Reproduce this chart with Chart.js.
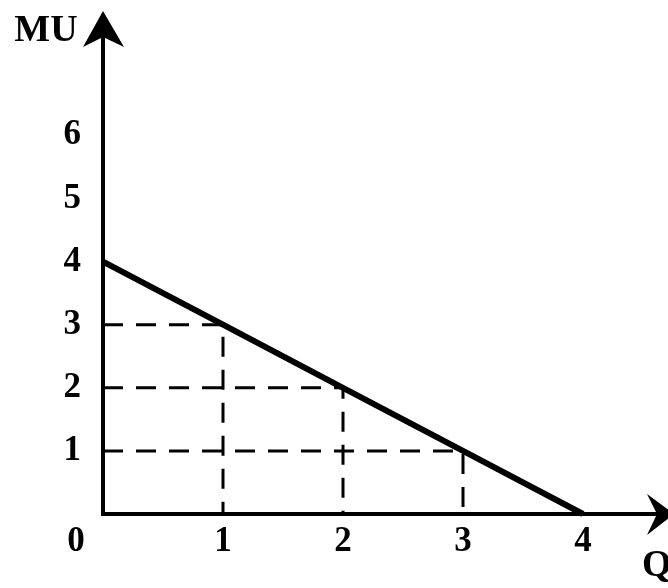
<!DOCTYPE html>
<html>
<head>
<meta charset="utf-8">
<script src="https://cdn.jsdelivr.net/npm/chart.js@4/dist/chart.umd.min.js"></script>
<style>
  html, body { margin: 0; padding: 0; background: #fff; }
  canvas { display: block; }
</style>
</head>
<body>
<canvas id="c" width="668" height="588"></canvas>
<script>
// ---- data ----
const qValues = [0, 1, 2, 3, 4];          // quantity Q
const muValues = [4, 3, 2, 1, 0];         // marginal utility MU
const guideQ = [1, 2, 3];                 // points with dashed guides
const guideMU = [3, 2, 1];
const xTickLabels = [1, 2, 3, 4];
const yTickLabels = [1, 2, 3, 4, 5, 6];
const xAxisTitle = 'Q';
const yAxisTitle = 'MU';
const originLabel = '0';

const FONT = '"Liberation Serif", "Times New Roman", serif';

const mainLine = {
  data: qValues.map((q, i) => ({ x: q, y: muValues[i] })),
  borderColor: '#000',
  borderWidth: 6,
  pointRadius: 0,
  showLine: true,
  clip: false,
  order: 0
};
const guides = guideQ.map((q, i) => ({
  data: [{ x: 0, y: guideMU[i] }, { x: q, y: guideMU[i] }, { x: q, y: 0 }],
  borderColor: '#000',
  borderWidth: 3,
  borderDash: [20, 13],
  pointRadius: 0,
  showLine: true,
  clip: false,
  order: 1
}));

const decor = {
  id: 'decor',
  afterDraw(chart) {
    const ctx = chart.ctx;
    const a = chart.chartArea;
    const x0 = a.left, y0 = a.bottom;
    ctx.save();
    ctx.fillStyle = '#000';
    ctx.strokeStyle = '#000';
    ctx.lineWidth = 4;
    // y axis extension + arrow
    ctx.beginPath();
    ctx.moveTo(x0, a.top);
    ctx.lineTo(x0, 30);
    ctx.stroke();
    ctx.beginPath();
    ctx.moveTo(x0, 11);
    ctx.lineTo(x0 - 20, 47);
    ctx.lineTo(x0, 37);
    ctx.lineTo(x0 + 21, 47);
    ctx.closePath();
    ctx.fill();
    // x axis arrow
    ctx.beginPath();
    ctx.moveTo(674, y0);
    ctx.lineTo(647, y0 - 20);
    ctx.lineTo(657, y0);
    ctx.lineTo(647, y0 + 21);
    ctx.closePath();
    ctx.fill();
    // labels
    ctx.font = 'bold 35px ' + FONT;
    ctx.textAlign = 'center';
    ctx.textBaseline = 'middle';
    ctx.fillText(originLabel, 76, 542);
    ctx.font = 'bold 38px ' + FONT;
    ctx.textBaseline = 'alphabetic';
    ctx.fillText(yAxisTitle, 46, 41);
    ctx.textAlign = 'left';
    ctx.fillText(xAxisTitle, 642, 576);
    ctx.restore();
  }
};

new Chart(document.getElementById('c'), {
  type: 'scatter',
  data: { datasets: [mainLine, ...guides] },
  options: {
    responsive: false,
    animation: false,
    devicePixelRatio: 1,
    layout: { padding: { left: 0, right: 0, top: 40, bottom: 0 } },
    plugins: { legend: { display: false }, tooltip: { enabled: false } },
    scales: {
      x: {
        type: 'linear',
        min: 0,
        max: 565 / 120,
        grid: { display: false, drawTicks: false },
        border: { display: true, color: '#000', width: 4 },
        afterBuildTicks: s => { s.ticks = xTickLabels.map(v => ({ value: v })); },
        afterFit: s => { s.height = 74; },
        ticks: {
          color: '#000',
          padding: 7,
          font: { family: FONT, size: 35, weight: 'bold' },
          callback: v => String(v)
        }
      },
      y: {
        type: 'linear',
        min: 0,
        max: 474 / 63.5,
        grid: { display: false, drawTicks: false },
        border: { display: true, color: '#000', width: 4 },
        afterBuildTicks: s => { s.ticks = yTickLabels.map(v => ({ value: v })); },
        afterFit: s => { s.width = 103; },
        ticks: {
          color: '#000',
          padding: 22,
          font: { family: FONT, size: 35, weight: 'bold' },
          callback: v => String(v)
        }
      }
    }
  },
  plugins: [decor]
});
</script>
</body>
</html>
